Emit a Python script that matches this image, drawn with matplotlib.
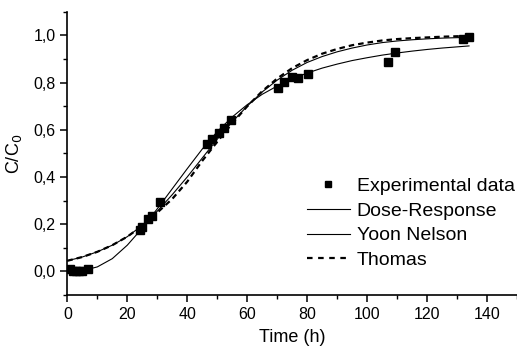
import matplotlib

matplotlib.use("Agg")
import matplotlib.pyplot as plt
from matplotlib.ticker import FuncFormatter, MultipleLocator

plt.rcParams["font.family"] = ["Liberation Sans", "DejaVu Sans"]

# experimental breakthrough points
exp_t = [1, 2, 3, 4, 5, 7, 24.2, 24.8, 27.0, 28.1, 30.9,
         46.5, 48.1, 50.7, 52.3, 54.6,
         70.3, 72.2, 74.8, 77.0, 80.3, 107.0, 109.2, 132.0, 133.9]
exp_c = [0.01, 0.0, 0.0, 0.0, 0.0, 0.01, 0.175, 0.189, 0.222, 0.236, 0.292,
         0.541, 0.56, 0.588, 0.606, 0.641,
         0.775, 0.801, 0.823, 0.82, 0.837, 0.887, 0.929, 0.983, 0.994]

# model curves, sampled every 5 h
model_t = [0, 5, 10, 15, 20, 25, 30, 35, 40, 45, 50, 55, 60, 65, 70,
           75, 80, 85, 90, 95, 100, 105, 110, 115, 120, 125, 130, 134]
dose_response = [0.0, 0.003, 0.019, 0.054, 0.111, 0.183, 0.265, 0.35, 0.435,
                 0.518, 0.592, 0.654, 0.706, 0.75, 0.785, 0.815, 0.84, 0.861,
                 0.878, 0.893, 0.905, 0.916, 0.925, 0.933, 0.94, 0.946, 0.951,
                 0.955]
yoon_nelson = [0.045, 0.061, 0.083, 0.111, 0.147, 0.195, 0.255, 0.325, 0.40,
               0.48, 0.56, 0.633, 0.70, 0.76, 0.81, 0.852, 0.885, 0.91, 0.93,
               0.946, 0.959, 0.969, 0.976, 0.981, 0.985, 0.988, 0.99, 0.991]
thomas = [0.045, 0.061, 0.083, 0.111, 0.147, 0.193, 0.249, 0.307, 0.38,
          0.468, 0.549, 0.627, 0.699, 0.763, 0.817, 0.861, 0.895, 0.922,
          0.942, 0.958, 0.969, 0.978, 0.984, 0.988, 0.991, 0.994, 0.996,
          0.997]

fig = plt.figure(figsize=(5.17, 3.51), dpi=100)
ax = fig.add_axes([0.1302, 0.1595, 0.8698, 0.8072])

ax.plot(exp_t, exp_c, "s", color="black", ms=5.5, label="Experimental data")
ax.plot(model_t, dose_response, "-", color="black", lw=0.8, label="Dose-Response")
ax.plot(model_t, yoon_nelson, "-", color="black", lw=0.8, label="Yoon Nelson")
ax.plot(model_t, thomas, "--", color="black", lw=1.6, dashes=(2.5, 1.8),
        label="Thomas")

ax.set_xlim(0, 150)
ax.set_ylim(-0.1, 1.1)
ax.xaxis.set_major_locator(MultipleLocator(20))
ax.xaxis.set_minor_locator(MultipleLocator(10))
ax.yaxis.set_major_locator(MultipleLocator(0.2))
ax.yaxis.set_minor_locator(MultipleLocator(0.1))
ax.yaxis.set_major_formatter(FuncFormatter(lambda v, p: f"{v:.1f}".replace(".", ",")))

for side in ("top", "right"):
    ax.spines[side].set_visible(False)
for side in ("left", "bottom"):
    ax.spines[side].set_linewidth(1.2)
ax.tick_params(which="major", direction="out", length=5, width=1.1, labelsize=11.5)
ax.tick_params(which="minor", direction="out", length=3, width=1.0)

ax.set_xlabel("Time (h)", fontsize=13, labelpad=5)
ax.set_ylabel("C/C$_0$", fontsize=13, labelpad=7)

leg = ax.legend(loc="upper left", bbox_to_anchor=(0.594, 0.494),
                bbox_transform=fig.transFigure, frameon=False, fontsize=14,
                numpoints=1, markerscale=0.7, handlelength=2.2,
                handletextpad=0.35, labelspacing=0.36, borderpad=0,
                borderaxespad=0)
leg.get_lines()[3].set_dashes((2.5, 2.5))

fig.savefig("out.png", dpi=100)
